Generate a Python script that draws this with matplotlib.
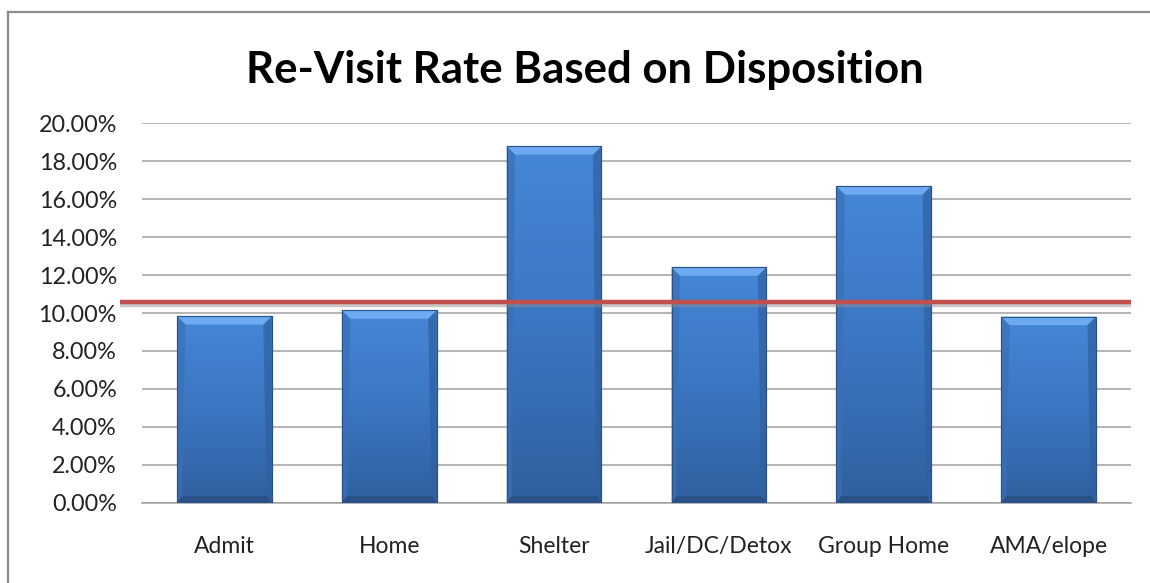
import matplotlib
matplotlib.use("Agg")
import matplotlib.pyplot as plt
import numpy as np
from matplotlib.patches import Polygon
import matplotlib.patheffects as pe
import matplotlib.transforms as mtransforms
from matplotlib.colors import LinearSegmentedColormap

categories = ["Admit", "Home", "Shelter", "Jail/DC/Detox", "Group Home", "AMA/elope"]
rates = [0.0984, 0.1015, 0.1880, 0.1241, 0.1669, 0.0981]
average_rate = 0.1058
y_ticks = [0.00, 0.02, 0.04, 0.06, 0.08, 0.10, 0.12, 0.14, 0.16, 0.18, 0.20]
title = "Re-Visit Rate Based on Disposition"

plt.rcParams['font.family'] = ['Lato', 'DejaVu Sans']

fig = plt.figure(figsize=(11.5, 5.83), dpi=100)
ax = fig.add_axes([142/1150, 1 - 502.7/583, (1131 - 142)/1150, (502.7 - 123.3)/583])

x = np.arange(len(categories))
bar_w = 0.575
bars = ax.bar(x, rates, width=bar_w, color="#3F7ECF", edgecolor="#2B5287",
              linewidth=0.8, zorder=3)

# vertical gradient inside each bar
cmap = LinearSegmentedColormap.from_list("bluegrad", ["#305F9E", "#3B76C2", "#4587D8"])
grad = np.linspace(0, 1, 256).reshape(-1, 1)
for b in bars:
    x0, w, h = b.get_x(), b.get_width(), b.get_height()
    im = ax.imshow(grad, extent=(x0, x0 + w, 0, h), origin="lower", cmap=cmap,
                   aspect="auto", zorder=3.1, vmin=0, vmax=1)
    im.set_clip_path(b)
    bev_x = w * 0.09
    bev_y = 0.0045
    # side shading (subtle)
    ax.add_patch(Polygon([[x0, 0], [x0 + bev_x * 0.6, 0.0035], [x0 + bev_x, h - bev_y], [x0, h]],
                         closed=True, facecolor="#3A70B6", edgecolor="none", zorder=3.2, alpha=0.7))
    ax.add_patch(Polygon([[x0 + w, 0], [x0 + w - bev_x * 0.6, 0.0035], [x0 + w - bev_x, h - bev_y], [x0 + w, h]],
                         closed=True, facecolor="#2F609F", edgecolor="none", zorder=3.2, alpha=0.7))
    # top bevel highlight
    top = Polygon([[x0, h], [x0 + w, h], [x0 + w - bev_x, h - bev_y], [x0 + bev_x, h - bev_y]],
                  closed=True, facecolor="#6DAAF0", edgecolor="none", zorder=3.25)
    ax.add_patch(top)
    # bottom darker band
    bot = Polygon([[x0, 0], [x0 + w, 0], [x0 + w - bev_x * 0.6, 0.0035], [x0 + bev_x * 0.6, 0.0035]],
                  closed=True, facecolor="#2A5185", edgecolor="none", zorder=3.25)
    ax.add_patch(bot)
    ax.add_patch(plt.Rectangle((x0, 0), w, h, fill=False, edgecolor="#2B5287", linewidth=0.8, zorder=3.3))

ax.set_xlim(-0.5, len(categories) - 0.5)
ax.set_ylim(0, 0.20)
ax.set_yticks(y_ticks)
ax.set_yticklabels([f"{v*100:.2f}%" for v in y_ticks])
ax.set_xticks(x)
ax.set_xticklabels(categories)
ax.tick_params(axis="y", length=0, pad=18, labelsize=16.8, labelcolor="#222222")
ax.tick_params(axis="x", length=0, pad=24, labelsize=16.5, labelcolor="#222222")
ax.yaxis.grid(True, color="#A0A0A0", linewidth=1.1, zorder=0)
ax.set_axisbelow(True)
for s in ["left", "right", "top"]:
    ax.spines[s].set_visible(False)
ax.spines["bottom"].set_color("#A0A0A0")
ax.spines["bottom"].set_linewidth(1.1)

# average line extending slightly left of plot
trans = mtransforms.blended_transform_factory(ax.transAxes, ax.transData)
ax.plot([-0.022, 1.0], [average_rate, average_rate], transform=trans, color="#C0504D",
        linewidth=3.2, solid_capstyle="butt", clip_on=False, zorder=5,
        path_effects=[pe.SimpleLineShadow(offset=(0, -2.5), shadow_color="#909090", alpha=0.5),
                      pe.Normal()])

fig.text(585/1150, 1 - 70/583, title, ha="center", va="center", fontsize=31.5,
         fontweight="bold", color="#000000")

# outer chart border (top and left visible)
fig.add_artist(plt.Line2D([8/1150, 8/1150], [0, 1 - 12/583], transform=fig.transFigure,
                          color="#8C8C8C", linewidth=1.6))
fig.add_artist(plt.Line2D([8/1150, 1], [1 - 12/583, 1 - 12/583], transform=fig.transFigure,
                          color="#8C8C8C", linewidth=1.6))

fig.savefig("out.png", dpi=100)
